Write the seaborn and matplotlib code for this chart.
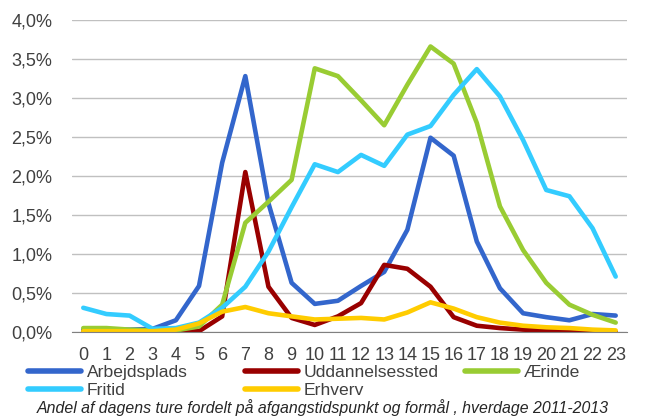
import numpy as np
import pandas as pd
import seaborn as sns
import matplotlib.pyplot as plt
from matplotlib.ticker import FuncFormatter, FixedLocator

hours = list(range(24))

arbejdsplads = [0.03, 0.03, 0.03, 0.04, 0.15, 0.59, 2.17, 3.28, 1.65, 0.63, 0.36, 0.40,
                0.59, 0.77, 1.31, 2.49, 2.26, 1.16, 0.56, 0.24, 0.19, 0.15, 0.23, 0.21]
uddannelsessted = [0.0, 0.0, 0.0, 0.0, 0.0, 0.01, 0.20, 2.05, 0.58, 0.18, 0.09, 0.20,
                   0.37, 0.86, 0.81, 0.58, 0.19, 0.08, 0.05, 0.03, 0.02, 0.01, 0.0, 0.0]
aerinde = [0.05, 0.05, 0.03, 0.02, 0.02, 0.07, 0.35, 1.40, 1.67, 1.95, 3.38, 3.28,
           2.97, 2.65, 3.17, 3.66, 3.44, 2.68, 1.61, 1.05, 0.63, 0.35, 0.22, 0.12]
fritid = [0.31, 0.23, 0.21, 0.04, 0.05, 0.12, 0.31, 0.58, 1.03, 1.60, 2.15, 2.05,
          2.27, 2.13, 2.53, 2.64, 3.04, 3.37, 3.02, 2.46, 1.82, 1.74, 1.33, 0.71]
erhverv = [0.01, 0.01, 0.01, 0.01, 0.03, 0.11, 0.26, 0.32, 0.24, 0.20, 0.16, 0.17,
           0.18, 0.16, 0.25, 0.38, 0.30, 0.19, 0.12, 0.08, 0.06, 0.05, 0.03, 0.02]

series = {
    "Arbejdsplads": arbejdsplads,
    "Uddannelsessted": uddannelsessted,
    "Ærinde": aerinde,
    "Fritid": fritid,
    "Erhverv": erhverv,
}
colors = {
    "Arbejdsplads": "#3366CC",
    "Uddannelsessted": "#990000",
    "Ærinde": "#99CC33",
    "Fritid": "#33CCFF",
    "Erhverv": "#FFCC00",
}
caption = "Andel af dagens ture fordelt på afgangstidspunkt og formål , hverdage 2011-2013"

rows = []
for name, vals in series.items():
    for h, v in zip(hours, vals):
        rows.append({"time": h, "andel": v, "formaal": name})
df = pd.DataFrame(rows)

sns.set_style("white")
plt.rcParams['font.family'] = ['Liberation Sans', 'DejaVu Sans']

fig = plt.figure(figsize=(6.46, 4.16), dpi=100)
ax = fig.add_axes([0.111, 0.202, 0.86, 0.75])

sns.lineplot(data=df, x="time", y="andel", hue="formaal", palette=colors,
             linewidth=3.3, ax=ax, legend=False)

ax.set_xlim(-0.5, 23.5)
ax.set_ylim(0, 4.0)
ax.set_yticks(np.arange(0, 4.01, 0.5))
ax.yaxis.set_major_formatter(FuncFormatter(lambda v, p: f"{v:.1f}%".replace('.', ',')))
ax.yaxis.grid(True, color="#C0C0C0", linewidth=1)
ax.set_xticks(hours)
ax.set_xticklabels([str(h) for h in hours])
ax.xaxis.set_minor_locator(FixedLocator(np.arange(-0.5, 24, 1)))
ax.tick_params(axis='x', which='major', length=0, pad=11, labelsize=13, colors="#404040")
ax.tick_params(axis='x', which='minor', length=5, width=1, color="#808080", direction='out')
ax.tick_params(axis='y', length=0, labelsize=13, colors="#404040", pad=14)
ax.set_xlabel("")
ax.set_ylabel("")
for s in ["top", "right", "left"]:
    ax.spines[s].set_visible(False)
ax.spines["bottom"].set_color("#808080")

# legend: three fixed-width columns like the original
legend_cols = [["Arbejdsplads", "Fritid"], ["Uddannelsessted", "Erhverv"], ["Ærinde"]]
col_x = [28 / 646, 245 / 646, 465 / 646]
for names, x0 in zip(legend_cols, col_x):
    handles = [plt.Line2D([], [], color=colors[n], linewidth=4) for n in names]
    leg = fig.legend(handles, names, loc="upper left", bbox_to_anchor=(x0, 0.124),
                     frameon=False, fontsize=12.6, handlelength=3.0, handletextpad=0.35,
                     labelspacing=0.2, borderpad=0, borderaxespad=0,
                     labelcolor="#404040")

fig.text(0.5, 0.0, caption, ha="center", va="bottom", fontsize=11.4, style="italic")

fig.savefig("out.png", dpi=100)
